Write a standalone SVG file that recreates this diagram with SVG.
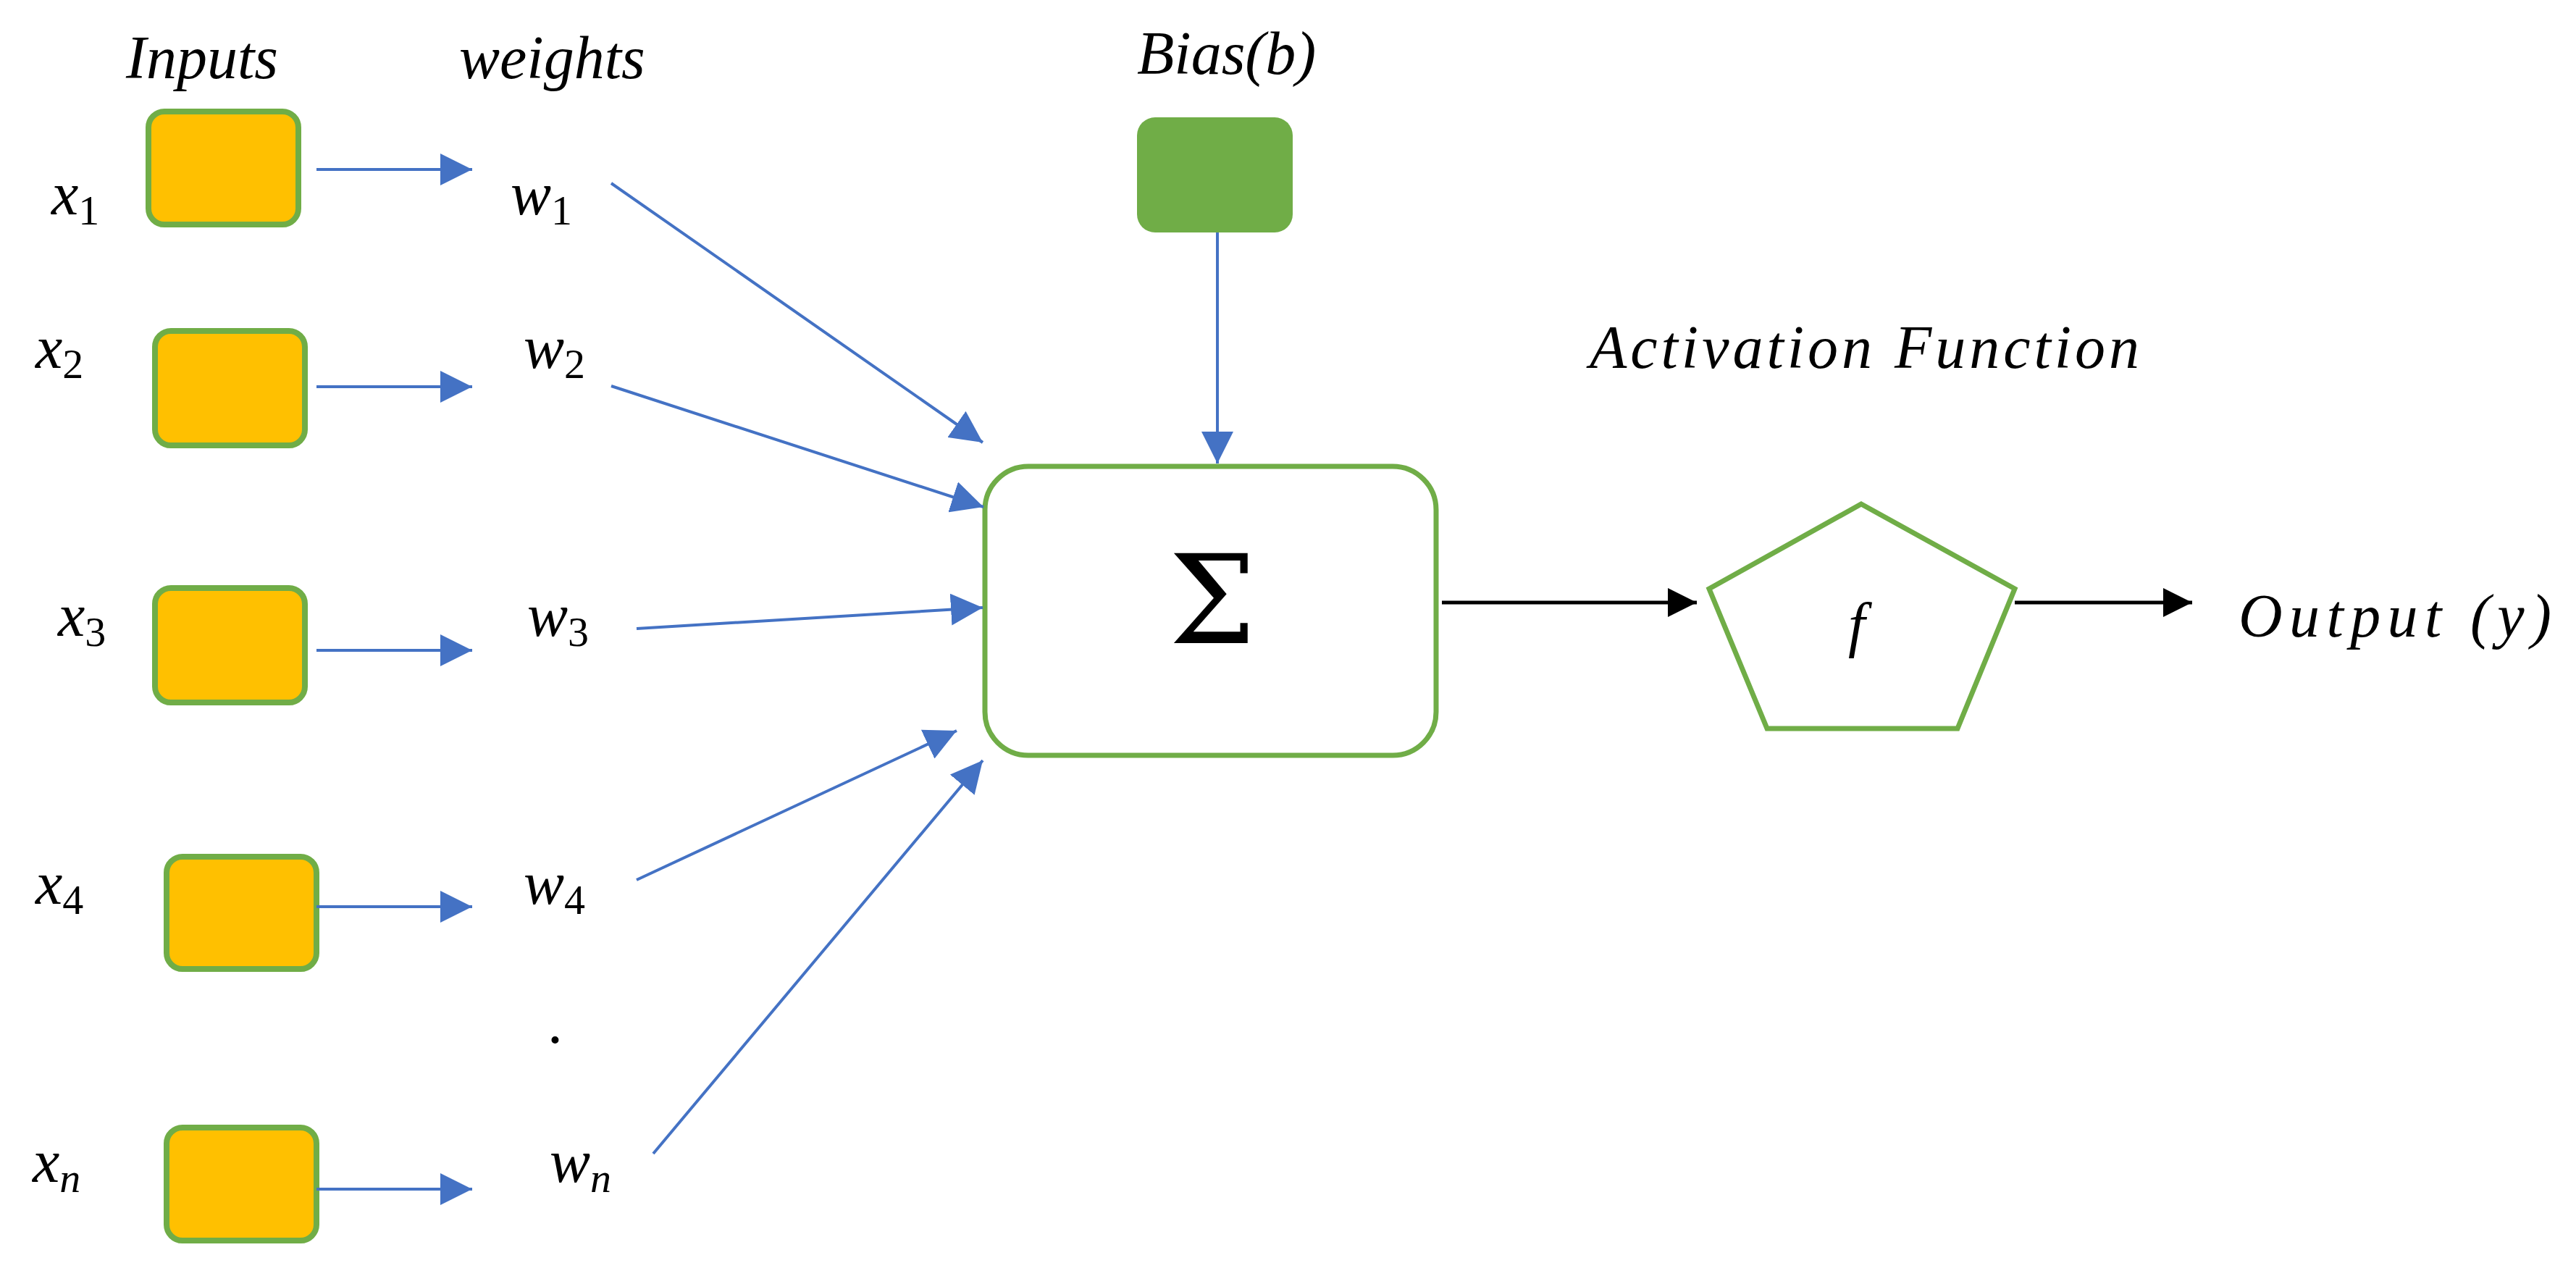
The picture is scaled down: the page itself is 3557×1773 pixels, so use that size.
<svg xmlns="http://www.w3.org/2000/svg" width="3557" height="1773" viewBox="0 0 3557 1773">
<style>
text{font-family:"Liberation Serif","DejaVu Serif",serif;font-style:italic;fill:#000;font-size:84px}
.sub{font-size:58px;font-style:normal}
.in{fill:#FFC000;stroke:#70AD47;stroke-width:8}
.b{stroke:#4472C4;stroke-width:4;fill:none}
.k{stroke:#000;stroke-width:5;fill:none}
</style>
<defs>
<marker id="ab" viewBox="0 0 10 10" refX="10" refY="5" markerWidth="12" markerHeight="12" markerUnits="userSpaceOnUse" orient="auto"><path d="M0,0L10,5L0,10z" fill="#4472C4"/></marker>
<marker id="abb" viewBox="0 0 10 10" refX="10" refY="5" markerWidth="11" markerHeight="11" orient="auto"><path d="M0,0L10,5L0,10z" fill="#4472C4"/></marker>
<marker id="ak" viewBox="0 0 10 10" refX="10" refY="5" markerWidth="8" markerHeight="8" orient="auto"><path d="M0,0L10,5L0,10z" fill="#000"/></marker>
</defs>
<rect width="3557" height="1773" fill="#fff"/>
<text x="174" y="108">Inputs</text>
<text x="634" y="108">weights</text>
<g id="x1"><rect class="in" x="205" y="154" width="207" height="156" rx="22"/><text x="71" y="296">x<tspan class="sub" dy="14">1</tspan></text></g>
<g id="x2"><rect class="in" x="214" y="457" width="207" height="158" rx="22"/><text x="49" y="508">x<tspan class="sub" dy="14">2</tspan></text></g>
<g id="x3"><rect class="in" x="214" y="812" width="207" height="158" rx="22"/><text x="80" y="878">x<tspan class="sub" dy="14">3</tspan></text></g>
<g id="x4"><rect class="in" x="230" y="1183" width="207" height="155" rx="22"/><text x="49" y="1248">x<tspan class="sub" dy="14">4</tspan></text></g>
<g id="xn"><rect class="in" x="230" y="1557" width="207" height="156" rx="22"/><text x="45" y="1632">x<tspan class="sub" dy="14" style="font-style:italic">n</tspan></text></g>
<g id="w1"><text x="705" y="296">w<tspan class="sub" dy="14">1</tspan></text></g>
<g id="w2"><text x="723" y="508">w<tspan class="sub" dy="14">2</tspan></text></g>
<g id="w3"><text x="728" y="878">w<tspan class="sub" dy="14">3</tspan></text></g>
<g id="w4"><text x="723" y="1248">w<tspan class="sub" dy="14">4</tspan></text></g>
<g id="wn"><text x="759" y="1632">w<tspan class="sub" dy="14" style="font-style:italic">n</tspan></text></g>
<text x="758" y="1440">.</text>
<g id="bias"><rect x="1570" y="162" width="215" height="159" rx="25" fill="#70AD47"/><text x="1570" y="102">Bias(b)</text></g>
<g id="sum"><rect x="1360" y="644" width="623" height="399" rx="60" fill="#fff" stroke="#70AD47" stroke-width="7"/><text x="1674" y="888" text-anchor="middle" style="font-style:normal;font-family:'DejaVu Serif',serif;font-size:170px">Σ</text></g>
<g id="act"><polygon points="2570,696 2782,813 2703,1006 2440,1006 2360,813" fill="#fff" stroke="#70AD47" stroke-width="7"/><text x="2552" y="891">f</text><text x="2195" y="508" textLength="759">Activation Function</text></g>
<text x="3091" y="879" textLength="432">Output (y)</text>
<g id="connectors">
<line class="b" x1="437" y1="234" x2="652" y2="234" marker-end="url(#abb)"/>
<line class="b" x1="437" y1="534" x2="652" y2="534" marker-end="url(#abb)"/>
<line class="b" x1="437" y1="898" x2="652" y2="898" marker-end="url(#abb)"/>
<line class="b" x1="437" y1="1252" x2="652" y2="1252" marker-end="url(#abb)"/>
<line class="b" x1="437" y1="1642" x2="652" y2="1642" marker-end="url(#abb)"/>
<line class="b" stroke-width="3" x1="844" y1="253" x2="1357" y2="611" marker-end="url(#ab)" style="marker-end:url(#abb)"/>
<line class="b" stroke-width="3" x1="844" y1="533" x2="1358" y2="700" marker-end="url(#abb)"/>
<line class="b" stroke-width="3" x1="879" y1="868" x2="1357" y2="839" marker-end="url(#abb)"/>
<line class="b" stroke-width="3" x1="879" y1="1215" x2="1321" y2="1009" marker-end="url(#abb)"/>
<line class="b" stroke-width="3" x1="902" y1="1593" x2="1357" y2="1050" marker-end="url(#abb)"/>
<line class="b" stroke-width="3" x1="1681" y1="321" x2="1681" y2="640" marker-end="url(#abb)"/>
<line class="k" x1="1991" y1="832" x2="2343" y2="832" marker-end="url(#ak)"/>
<line class="k" x1="2782" y1="832" x2="3027" y2="832" marker-end="url(#ak)"/>
</g>
</svg>
